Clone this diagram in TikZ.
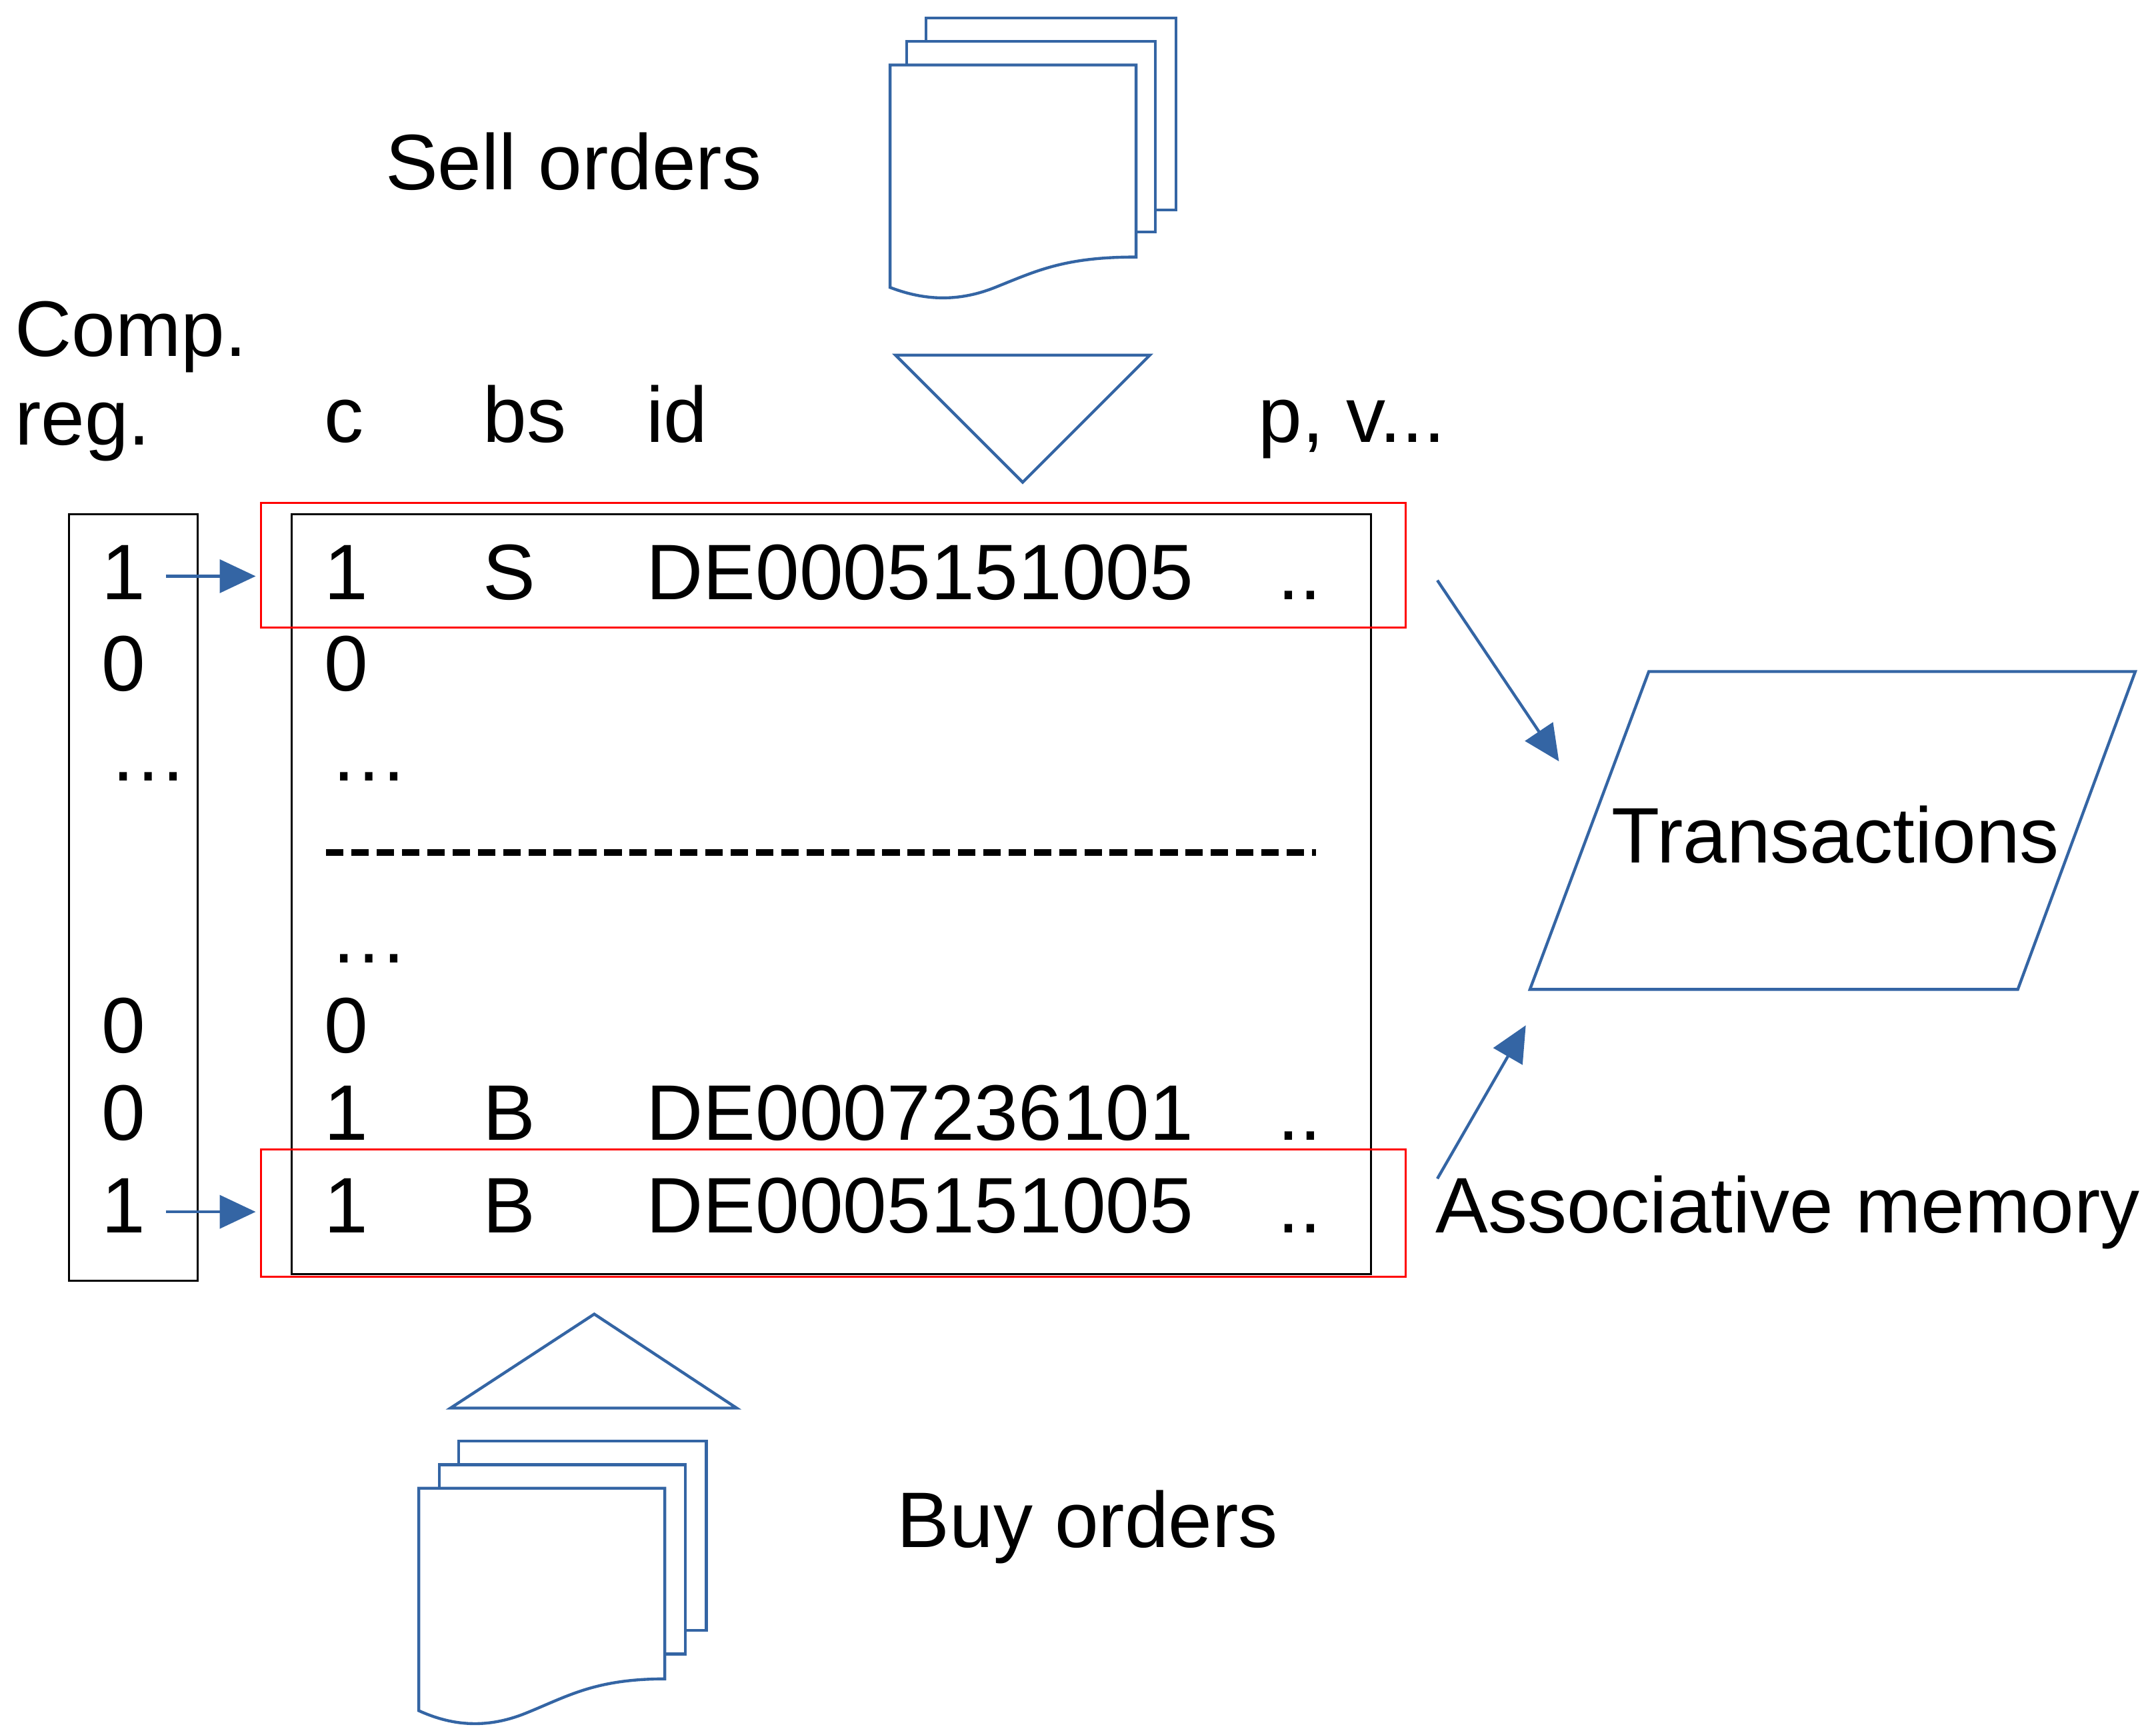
\documentclass[tikz,border=0pt]{standalone}
\usepackage{fontspec}
\setmainfont{Liberation Sans}
\usetikzlibrary{arrows.meta}
\definecolor{lblue}{RGB}{52,101,164}
\begin{document}
\begin{tikzpicture}[x=0.01cm,y=-0.01cm,
    font=\fontsize{16.2}{19}\selectfont,
    txt_style/.style={inner sep=0pt, anchor=base west},
    blue_style/.style={draw=lblue, line width=0.6pt},
    arrow_style/.style={lblue, line width=0.6pt, -{Triangle[length=2.6mm,width=2.4mm]}}]
    \useasboundingbox (0,0) rectangle (1560,1254);

    % sell orders
    \node at (415,117) (sell_txt) {Sell orders};
    \draw[blue_style, fill=white] (670,13) rectangle (851,152);
    \draw[blue_style, fill=white] (656,30) rectangle (836,168);
    \draw[blue_style, fill=white] (644,47) -- (822,47) -- (822,186)
      .. controls (770,186) and (750,196) .. (720,208)
      .. controls (690,220) and (665,216) .. (644,208) -- cycle;
    \draw[blue_style] (648,257) -- (832,257) -- (740,349) -- cycle;

    % headers
    \node[txt_style] at (10,258) (comp_txt) {Comp.};
    \node[txt_style] at (10,322) (reg_txt) {reg.};
    \foreach \x/\t in {234/c, 349/bs, 467/id, 910/{p, v...}}
      \node[txt_style] at (\x,320) {\t};

    % boxes
    \draw (50,372) rectangle (143,927);
    \draw (211,372) rectangle (992,922);
    \draw[red] (189,364) rectangle (1017,454);
    \draw[red] (189,832) rectangle (1017,924);

    % register column
    \foreach \y/\v/\n in {434/1/r_1, 500/0/r_2, 762/0/r_3, 825/0/r_4, 892/1/r_5}
      \node[txt_style] at (73,\y) (\n) {\v};
    \node[txt_style] at (78,565) (r_dots) {\dots};

    % memory column
    \foreach \y/\v/\n in {434/1/m_1, 500/0/m_2, 762/0/m_3, 825/1/m_4, 892/1/m_5}
      \node[txt_style] at (234,\y) (\n) {\v};
    \foreach \y in {565,697}
      \node[txt_style] at (238,\y) {\dots};
    \draw[line width=1.3pt, dash pattern=on 3.6pt off 1.6pt] (236,617) -- (952,617);
    \foreach \y/\b/\i in {434/S/DE0005151005, 825/B/DE0007236101, 892/B/DE0005151005} {
      \node[txt_style] at (349,\y) {\b};
      \node[txt_style] at (467,\y) {\i};
      \node[txt_style] at (924,\y) {..};
    }

    % compare arrows
    \coordinate (a_1) at (120,417);
    \coordinate (a_2) at (185,417);
    \coordinate (a_3) at (120,877);
    \coordinate (a_4) at (185,877);
    \draw[arrow_style] (a_1) -- (a_2);
    \draw[arrow_style] (a_3) -- (a_4);

    % transactions
    \draw[blue_style] (1193,486) -- (1545,486) -- (1460,716) -- (1107,716) -- cycle;
    \node at (1328,604) (trans) {Transactions};
    \node[txt_style] at (1038,892) (assoc) {Associative memory};
    \coordinate (t_1) at (1040,420);
    \coordinate (t_2) at (1128,551);
    \coordinate (t_3) at (1040,853);
    \coordinate (t_4) at (1104,742);
    \draw[arrow_style] (t_1) -- (t_2);
    \draw[arrow_style] (t_3) -- (t_4);

    % buy orders
    \draw[blue_style] (326,1019) -- (533,1019) -- (430,951) -- cycle;
    \draw[blue_style, fill=white] (332,1043) rectangle (511,1180);
    \draw[blue_style, fill=white] (318,1060) rectangle (496,1197);
    \draw[blue_style, fill=white] (303,1077) -- (481,1077) -- (481,1215)
      .. controls (430,1215) and (410,1228) .. (380,1240)
      .. controls (350,1252) and (325,1248) .. (303,1238) -- cycle;
    \node at (787,1105) (buy_txt) {Buy orders};
\end{tikzpicture}
\end{document}
